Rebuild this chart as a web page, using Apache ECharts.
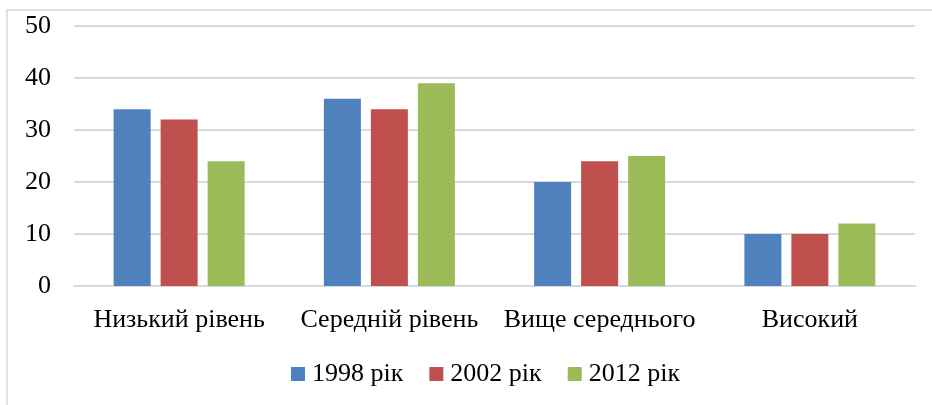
<!DOCTYPE html>
<html><head><meta charset="utf-8">
<script src="https://cdn.jsdelivr.net/npm/echarts@6/dist/echarts.min.js"></script>
<style>html,body{margin:0;padding:0;background:#fff}#c{width:932px;height:405px}</style>
</head><body><div id="c"></div>
<script>
const categories = ['Низький рівень', 'Середній рівень', 'Вище середнього', 'Високий'];
const seriesNames = ['1998 рік', '2002 рік', '2012 рік'];
const s1998 = [34, 36, 20, 10];
const s2002 = [32, 34, 24, 10];
const s2012 = [24, 39, 25, 12];
const yTicks = [0, 10, 20, 30, 40, 50];
const colors = ['#4F81BD', '#C0504D', '#9BBB59'];
const font = '"Liberation Serif", "Times New Roman", serif';

const chart = echarts.init(document.getElementById('c'));
const dataSets = [s1998, s2002, s2012];
chart.setOption({
  animation: false,
  textStyle: {fontFamily: font},
  graphic: [{type: 'rect', shape: {x: 7, y: 10, width: 940, height: 420}, style: {fill: 'none', stroke: '#d9d9d9', lineWidth: 1.5}, silent: true}],
  grid: {left: 74, right: 17, top: 26, bottom: 119},
  legend: {
    bottom: 13, left: 286, itemWidth: 14, itemHeight: 14, itemGap: 26,
    icon: 'rect',
    textStyle: {fontFamily: font, fontSize: 26, color: '#000', padding: [0, 0, 0, 2]},
    data: seriesNames
  },
  xAxis: {
    type: 'category', data: categories,
    axisLine: {lineStyle: {color: '#d9d9d9', width: 2}},
    axisTick: {show: false},
    axisLabel: {fontFamily: font, fontSize: 26, color: '#000', margin: 21, interval: 0}
  },
  yAxis: {
    type: 'value', min: yTicks[0], max: yTicks[yTicks.length - 1], interval: 10,
    axisLine: {show: false}, axisTick: {show: false},
    axisLabel: {fontFamily: font, fontSize: 26, color: '#000', margin: 23},
    splitLine: {lineStyle: {color: '#d9d9d9', width: 2}}
  },
  series: seriesNames.map((n, i) => ({
    name: n, type: 'bar', data: dataSets[i], barWidth: 37, barGap: '27%',
    itemStyle: {color: colors[i]}
  }))
});
</script></body></html>
